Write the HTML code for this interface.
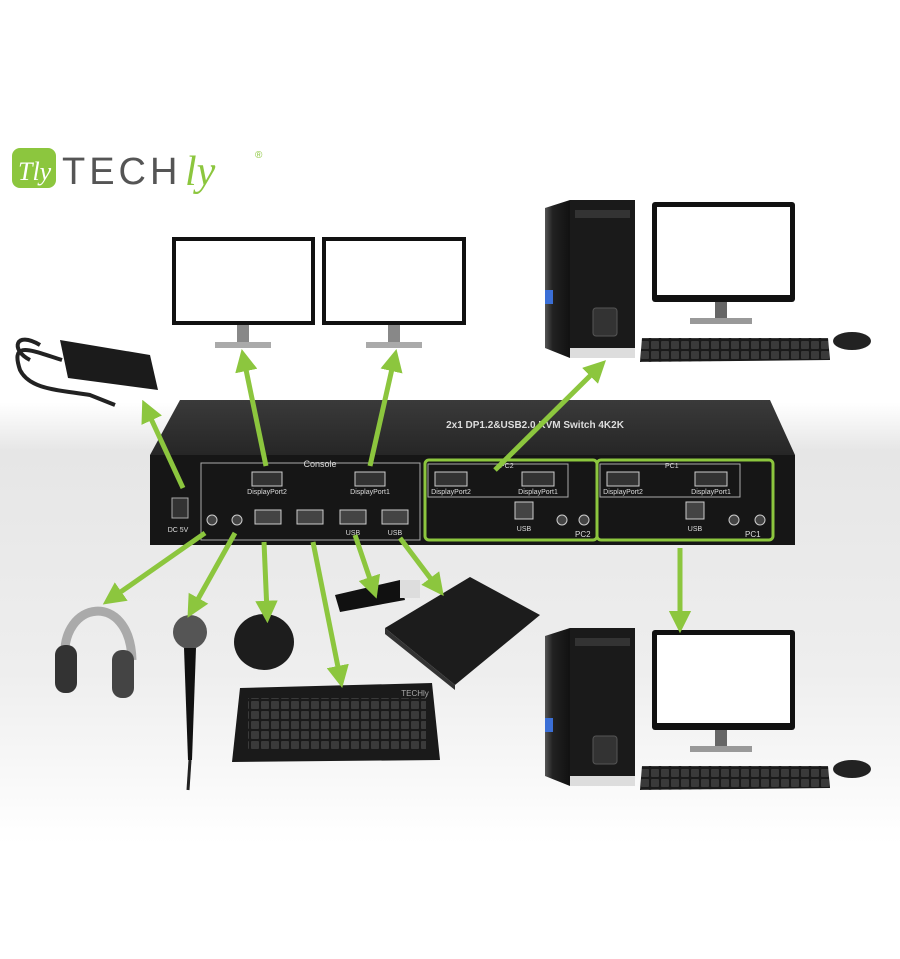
<!DOCTYPE html>
<html><head><meta charset="utf-8"><style>
html,body{margin:0;padding:0;background:#fff;}
svg{display:block;font-family:"Liberation Sans",sans-serif;}
</style></head><body>
<svg width="900" height="959" viewBox="0 0 900 959" xmlns="http://www.w3.org/2000/svg">
<defs>
<linearGradient id="bg" x1="0" y1="0" x2="0" y2="1">
<stop offset="0" stop-color="#fff"/><stop offset="0.42" stop-color="#fff"/>
<stop offset="0.47" stop-color="#e6e6e6"/><stop offset="0.7" stop-color="#eeeeee"/><stop offset="0.88" stop-color="#fff"/><stop offset="1" stop-color="#fff"/>
</linearGradient>
<linearGradient id="top" x1="0" y1="0" x2="0" y2="1"><stop offset="0" stop-color="#3a3a3a"/><stop offset="1" stop-color="#262626"/></linearGradient>
<linearGradient id="tower" x1="0" y1="0" x2="1" y2="0"><stop offset="0" stop-color="#555"/><stop offset="0.3" stop-color="#222"/><stop offset="1" stop-color="#111"/></linearGradient>
<pattern id="keys" width="10" height="10" patternUnits="userSpaceOnUse"><rect width="10" height="10" fill="#1a1a1a"/><rect x="1" y="1" width="8" height="8" rx="1" fill="#3a3a3a"/></pattern>
<marker id="ah" viewBox="0 0 10 10" refX="5" refY="5" markerWidth="4.5" markerHeight="4.5" orient="auto-start-reverse"><path d="M0,0 L10,5 L0,10 z" fill="#8cc63e"/></marker>
<g id="pc">
 <polygon points="570,0 635,0 635,150 570,158" fill="#bbb"/>
 <polygon points="545,8 570,0 570,158 545,148" fill="url(#tower)"/>
 <rect x="570" y="0" width="65" height="150" fill="#1a1a1a"/>
 <rect x="575" y="10" width="55" height="8" fill="#333"/>
 <rect x="545" y="90" width="8" height="14" fill="#3b6fd6"/>
 <rect x="593" y="108" width="24" height="28" rx="3" fill="#333" stroke="#555"/>
 <rect x="570" y="148" width="65" height="10" fill="#ddd"/>
 <rect x="652" y="2" width="143" height="100" rx="3" fill="#111"/>
 <rect x="657" y="7" width="133" height="88" fill="#fff"/>
 <rect x="715" y="102" width="12" height="16" fill="#666"/>
 <rect x="690" y="118" width="62" height="6" fill="#999"/>
 <polygon points="642,138 828,138 830,160 640,162" fill="url(#keys)"/>
 <ellipse cx="852" cy="141" rx="19" ry="9" fill="#222"/>
</g>
</defs>
<rect width="900" height="959" fill="url(#bg)"/>

<rect x="12" y="148" width="44" height="40" rx="8" fill="#8cc63e"/>
<text x="18" y="180" font-size="26" fill="#fff" font-family="Liberation Serif,serif" font-style="italic">Tly</text>
<text x="62" y="184" font-size="38" fill="#555" letter-spacing="4">TECH</text>
<text x="185" y="185" font-size="42" fill="#8cc63e" font-style="italic" font-family="Liberation Serif,serif">ly</text>
<text x="255" y="158" font-size="10" fill="#8cc63e">®</text>

<g><rect x="172" y="237" width="143" height="88" fill="#111"/><rect x="176" y="241" width="135" height="80" fill="#fff"/><rect x="237" y="325" width="12" height="18" fill="#888"/><rect x="215" y="342" width="56" height="6" fill="#aaa"/></g>
<g><rect x="322" y="237" width="144" height="88" fill="#111"/><rect x="326" y="241" width="136" height="80" fill="#fff"/><rect x="388" y="325" width="12" height="18" fill="#888"/><rect x="366" y="342" width="56" height="6" fill="#aaa"/></g>

<polygon points="60,340 150,355 158,390 68,378" fill="#1b1b1b"/>
<path d="M62,360 C30,350 10,340 20,370 C30,390 60,390 90,395 L115,405" stroke="#222" stroke-width="4" fill="none"/>
<path d="M40,345 C15,330 10,350 30,360" stroke="#222" stroke-width="4" fill="none"/>

<use href="#pc" y="200"/>
<use href="#pc" y="628"/>

<polygon points="180,400 770,400 795,455 150,455" fill="url(#top)"/>
<text x="535" y="428" font-size="10" fill="#ddd" font-weight="bold" text-anchor="middle">2x1 DP1.2&amp;USB2.0 KVM Switch 4K2K</text>
<rect x="150" y="455" width="645" height="90" fill="#161616"/>
<rect x="201" y="463" width="219" height="77" fill="none" stroke="#aaa" stroke-width="1"/>
<text x="320" y="467" font-size="9" fill="#ddd" text-anchor="middle">Console</text>
<rect x="252" y="472" width="30" height="14" fill="#333" stroke="#ccc"/><text x="267" y="494" font-size="7" fill="#ddd" text-anchor="middle">DisplayPort2</text>
<rect x="355" y="472" width="30" height="14" fill="#333" stroke="#ccc"/><text x="370" y="494" font-size="7" fill="#ddd" text-anchor="middle">DisplayPort1</text>
<g fill="#444" stroke="#ccc"><rect x="255" y="510" width="26" height="14"/><rect x="297" y="510" width="26" height="14"/><rect x="340" y="510" width="26" height="14"/><rect x="382" y="510" width="26" height="14"/></g>
<text x="353" y="535" font-size="7" fill="#ddd" text-anchor="middle">USB</text><text x="395" y="535" font-size="7" fill="#ddd" text-anchor="middle">USB</text>
<circle cx="212" cy="520" r="5" fill="#444" stroke="#ccc"/><circle cx="237" cy="520" r="5" fill="#444" stroke="#ccc"/>
<rect x="172" y="498" width="16" height="20" fill="#333" stroke="#aaa"/><text x="178" y="532" font-size="7" fill="#ddd" text-anchor="middle">DC 5V</text>
<rect x="425" y="460" width="172" height="80" rx="4" fill="none" stroke="#8cc63e" stroke-width="3"/>
<rect x="597" y="460" width="176" height="80" rx="4" fill="none" stroke="#8cc63e" stroke-width="3"/>
<rect x="428" y="464" width="140" height="33" fill="none" stroke="#aaa"/><rect x="600" y="464" width="140" height="33" fill="none" stroke="#aaa"/>
<text x="500" y="468" font-size="7" fill="#ddd">PC2</text><text x="665" y="468" font-size="7" fill="#ddd">PC1</text>
<g fill="#333" stroke="#ccc"><rect x="435" y="472" width="32" height="14"/><rect x="522" y="472" width="32" height="14"/><rect x="607" y="472" width="32" height="14"/><rect x="695" y="472" width="32" height="14"/></g>
<g font-size="7" fill="#ddd" text-anchor="middle"><text x="451" y="494">DisplayPort2</text><text x="538" y="494">DisplayPort1</text><text x="623" y="494">DisplayPort2</text><text x="711" y="494">DisplayPort1</text></g>
<g fill="#444" stroke="#ccc"><rect x="515" y="502" width="18" height="17"/><rect x="686" y="502" width="18" height="17"/><circle cx="562" cy="520" r="5"/><circle cx="584" cy="520" r="5"/><circle cx="734" cy="520" r="5"/><circle cx="760" cy="520" r="5"/></g>
<text x="524" y="531" font-size="7" fill="#ddd" text-anchor="middle">USB</text><text x="695" y="531" font-size="7" fill="#ddd" text-anchor="middle">USB</text>
<text x="575" y="537" font-size="8" fill="#ddd">PC2</text><text x="745" y="537" font-size="8" fill="#ddd">PC1</text>

<path d="M65,660 C60,600 130,590 132,660" stroke="#aaa" stroke-width="9" fill="none"/>
<rect x="55" y="645" width="22" height="48" rx="10" fill="#333"/><rect x="112" y="650" width="22" height="48" rx="10" fill="#444"/>
<circle cx="190" cy="632" r="17" fill="#555"/><polygon points="184,648 196,648 192,760 188,760" fill="#111"/>
<path d="M190,760 L188,790" stroke="#222" stroke-width="3"/>
<ellipse cx="264" cy="642" rx="30" ry="28" fill="#1d1d1d"/>
<polygon points="240,688 432,683 440,760 232,762" fill="#1a1a1a"/>
<rect x="248" y="698" width="178" height="52" fill="url(#keys)"/>
<text x="415" y="696" font-size="8" fill="#aaa" text-anchor="middle">TECHly</text>
<polygon points="335,595 400,580 405,600 340,612" fill="#111"/><rect x="400" y="580" width="20" height="18" fill="#ddd"/>
<polygon points="385,628 470,577 540,615 455,685" fill="#1c1c1c"/>
<polygon points="385,628 455,685 455,690 385,634" fill="#333"/>

<g stroke="#8cc63e" stroke-width="5" fill="none" marker-end="url(#ah)">
<line x1="183" y1="488" x2="147" y2="410"/>
<line x1="266" y1="466" x2="244" y2="360"/>
<line x1="370" y1="466" x2="394" y2="360"/>
<line x1="495" y1="470" x2="598" y2="368"/>
<line x1="680" y1="548" x2="680" y2="622"/>
<line x1="205" y1="533" x2="112" y2="598"/>
<line x1="235" y1="533" x2="193" y2="608"/>
<line x1="264" y1="542" x2="267" y2="612"/>
<line x1="313" y1="542" x2="340" y2="677"/>
<line x1="355" y1="535" x2="373" y2="588"/>
<line x1="400" y1="538" x2="437" y2="587"/>
</g>
</svg>
</body></html>
